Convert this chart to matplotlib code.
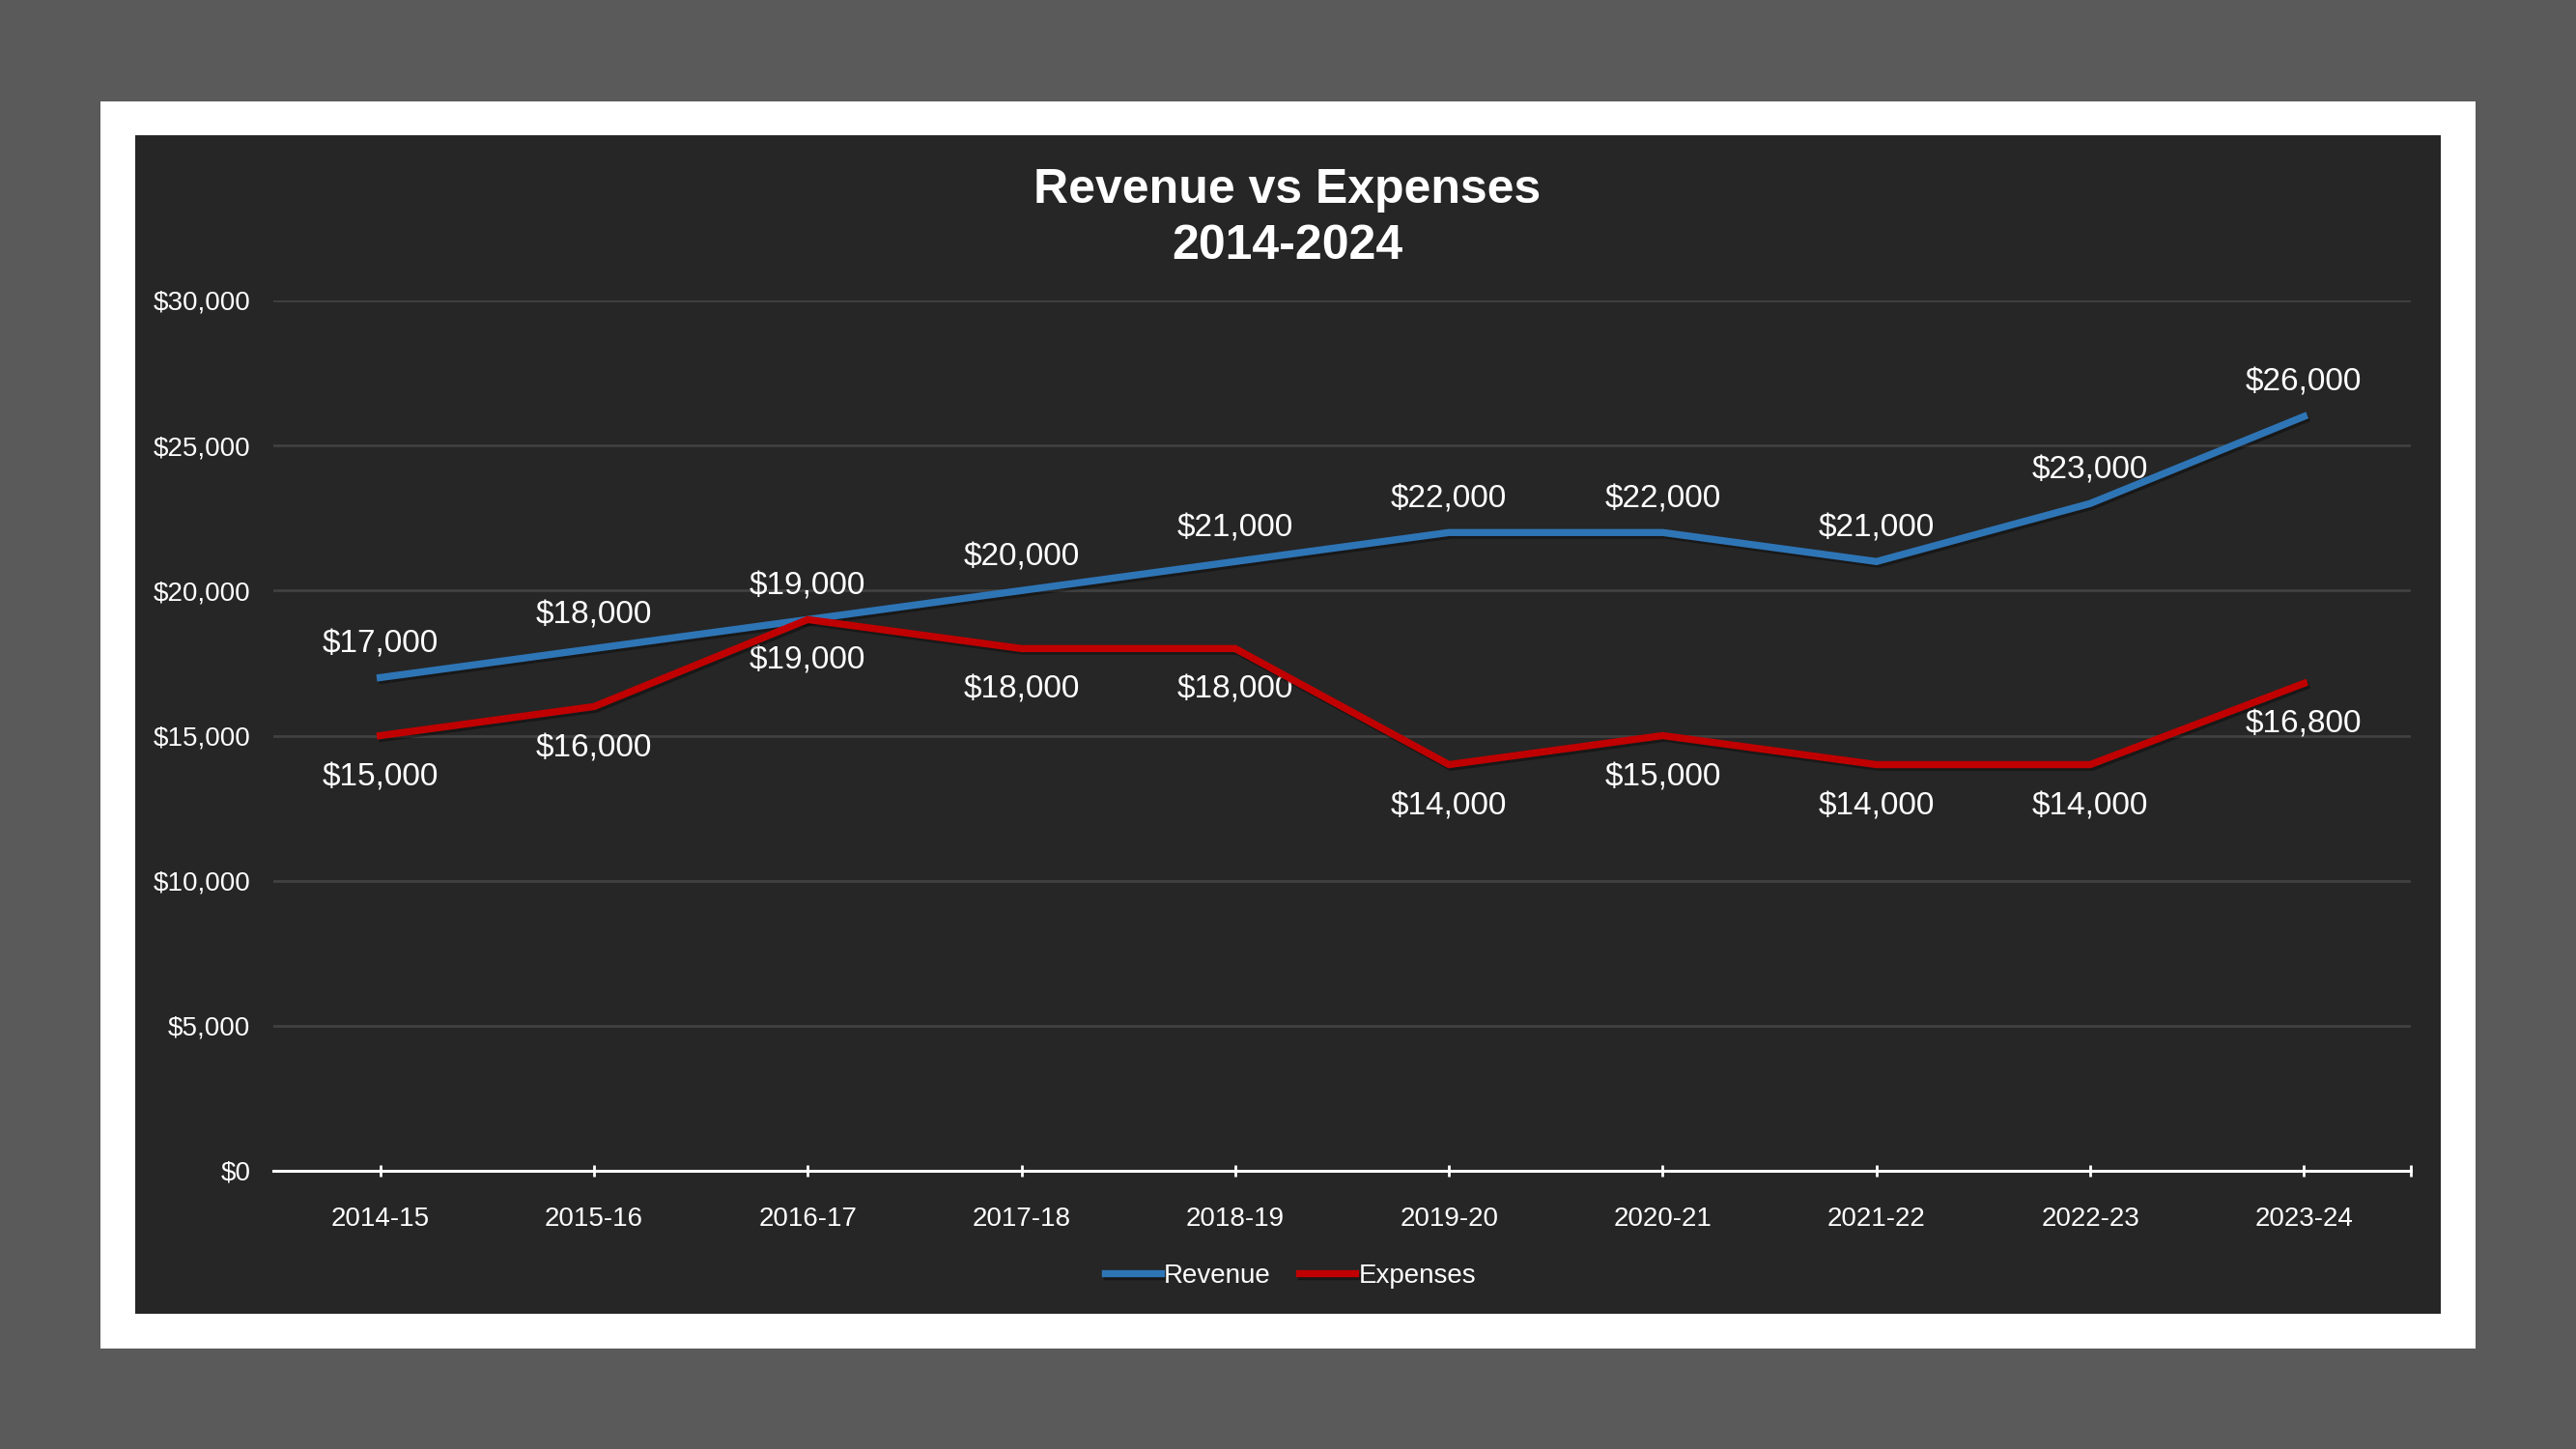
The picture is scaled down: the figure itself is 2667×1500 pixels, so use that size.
import matplotlib
matplotlib.use("Agg")
import matplotlib.pyplot as plt
from matplotlib import patheffects as pe
from matplotlib.patches import Rectangle
from matplotlib.ticker import FuncFormatter

# data
years = ["2014-15", "2015-16", "2016-17", "2017-18", "2018-19",
         "2019-20", "2020-21", "2021-22", "2022-23", "2023-24"]
revenue = [17000, 18000, 19000, 20000, 21000, 22000, 22000, 21000, 23000, 26000]
expenses = [15000, 16000, 19000, 18000, 18000, 14000, 15000, 14000, 14000, 16800]

COLORS = {
    "page": "#5a5a5a",
    "frame": "#ffffff",
    "panel": "#262626",
    "grid": "#404040",
    "text": "#ffffff",
    "blue": "#2e75b6",
    "red": "#c00000",
}

plt.rcParams["font.family"] = ["Liberation Sans", "DejaVu Sans"]

W, H = 2667, 1500
fig = plt.figure(figsize=(W / 100, H / 100), dpi=100)
fig.patch.set_facecolor(COLORS["page"])


def px_rect(x0, y0, x1, y1, color):
    fig.patches.append(Rectangle((x0 / W, 1 - y1 / H), (x1 - x0) / W, (y1 - y0) / H,
                                 transform=fig.transFigure, facecolor=color,
                                 edgecolor="none", zorder=-5))


px_rect(104, 105, 2563, 1396, COLORS["frame"])
px_rect(140, 140, 2527, 1360, COLORS["panel"])

ax = fig.add_axes([283 / W, 1 - 1212 / H, (2496 - 283) / W, (1212 - 311) / H])
ax.set_zorder(5)
ax.set_facecolor("none")
for name, spine in ax.spines.items():
    spine.set_visible(name == "bottom")
ax.spines["bottom"].set_color(COLORS["text"])
ax.spines["bottom"].set_linewidth(2.2)

ax.set_xlim(-0.5, len(years) - 0.5)
ax.set_ylim(0, 30000)
ax.set_yticks(range(0, 30001, 5000))
ax.yaxis.set_major_formatter(FuncFormatter(lambda v, _: f"${v:,.0f}"))
ax.grid(axis="y", color=COLORS["grid"], linewidth=2)
ax.set_axisbelow(True)

ax.set_xticks(range(len(years)))
ax.set_xticklabels(years)
ax.set_xticks([len(years) - 0.5], minor=True)
ax.tick_params(axis="x", which="both", direction="inout", length=9, width=2,
               color=COLORS["text"], labelsize=20, labelcolor=COLORS["text"], pad=22)
ax.tick_params(axis="y", length=0, labelsize=20, labelcolor=COLORS["text"], pad=17)

shadow = [pe.SimpleLineShadow(offset=(1.5, -2), shadow_color="black", alpha=0.35), pe.Normal()]
x = list(range(len(years)))
ax.plot(x, revenue, color=COLORS["blue"], linewidth=5.3, label="Revenue",
        solid_joinstyle="miter", path_effects=shadow, zorder=3)
ax.plot(x, expenses, color=COLORS["red"], linewidth=5.3, label="Expenses",
        solid_joinstyle="miter", path_effects=shadow, zorder=4)

for xi, v in zip(x, revenue):
    ax.annotate(f"${v:,.0f}", (xi, v), xytext=(0, 25), textcoords="offset points",
                ha="center", va="center", fontsize=24, color=COLORS["text"])
for xi, v in zip(x, expenses):
    ax.annotate(f"${v:,.0f}", (xi, v), xytext=(0, -31), textcoords="offset points",
                ha="center", va="center", fontsize=24, color=COLORS["text"])

fig.text(1333 / W, 1 - 197 / H, "Revenue vs Expenses", ha="center", va="center",
         fontsize=36, fontweight="bold", color=COLORS["text"])
fig.text(1333 / W, 1 - 255 / H, "2014-2024", ha="center", va="center",
         fontsize=36, fontweight="bold", color=COLORS["text"])

leg = fig.legend(loc="center", bbox_to_anchor=(1336 / W, 1 - 1321 / H), ncol=2,
                 frameon=False, fontsize=20, labelcolor=COLORS["text"],
                 handlelength=2.1, handletextpad=0.1, columnspacing=1.05)

fig.savefig("out.png", dpi=100, facecolor=fig.get_facecolor())
